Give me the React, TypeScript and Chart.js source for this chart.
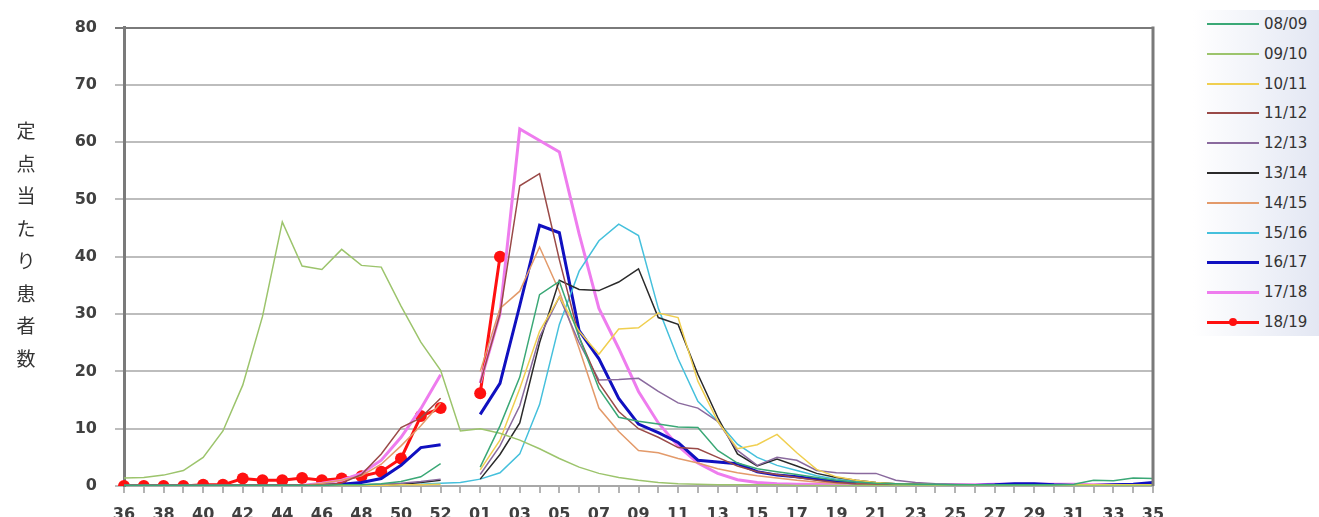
import React, { useEffect, useRef } from 'react';
import { Chart, registerables } from 'chart.js';

Chart.register(...registerables);

const weeks = [
  '36', '37', '38', '39', '40', '41', '42', '43', '44', '45', '46', '47', '48', '49', '50', '51', '52', '53',
  '01', '02', '03', '04', '05', '06', '07', '08', '09', '10', '11', '12', '13', '14', '15', '16', '17', '18',
  '19', '20', '21', '22', '23', '24', '25', '26', '27', '28', '29', '30', '31', '32', '33', '34', '35',
];

const yTicks = [0, 10, 20, 30, 40, 50, 60, 70, 80];

const seasons = ['08/09', '09/10', '10/11', '11/12', '12/13', '13/14', '14/15', '15/16', '16/17', '17/18', '18/19'];

const s0809 = [
  0.1, 0.1, 0.1, 0.1, 0.1, 0.1, 0.1, 0.1, 0.1, 0.1, 0.1, 0.2, 0.2, 0.4, 0.8, 1.6, 3.9, null,
  3.3, 10.5, 19, 33.4, 35.7, 26, 17, 12, 11.3, 10.8, 10.3, 10.2, 6.2, 4.0, 3.0, 2.5, 2.0, 1.5,
  1.0, 0.7, 0.5, 0.4, 0.3, 0.3, 0.2, 0.2, 0.2, 0.2, 0.2, 0.2, 0.3, 1.0, 0.9, 1.4, 1.3,
];
const s0910 = [
  1.4, 1.5, 1.9, 2.7, 5.0, 9.6, 17.6, 29.6, 46.1, 38.4, 37.8, 41.3, 38.5, 38.2, 31.4, 25.1, 20.2, 9.6,
  10.0, 9.2, 8.0, 6.5, 4.8, 3.3, 2.2, 1.5, 1.0, 0.6, 0.4, 0.3, 0.2, 0.2, 0.2, 0.2, 0.1, 0.1,
  0.1, 0.1, 0.1, 0.1, 0.1, 0.1, 0.1, 0.1, 0.1, 0.1, 0.1, 0.1, 0.1, 0.1, 0.1, 0.1, 0.1,
];
const s1011 = [
  0.1, 0.1, 0.1, 0.1, 0.1, 0.1, 0.1, 0.1, 0.1, 0.1, 0.1, 0.1, 0.1, 0.1, 0.2, 0.2, 0.3, null,
  2.8, 8, 17, 27, 33, 27, 23, 27.4, 27.6, 30.2, 29.4, 18.3, 11.3, 6.5, 7.2, 9.0, 5.8, 2.9,
  1.6, 1.0, 0.6, 0.4, 0.3, 0.2, 0.2, 0.2, 0.2, 0.2, 0.2, 0.2, 0.2, 0.2, 0.2, 0.2, 0.2,
];
const s1112 = [
  0.1, 0.1, 0.1, 0.1, 0.1, 0.1, 0.1, 0.1, 0.1, 0.1, 0.2, 0.5, 2.0, 5.6, 10.2, 11.9, 15.3, null,
  18, 30, 52.4, 54.5, 39.5, 26, 18, 13, 10, 8.5, 6.7, 6.5, 5.0, 3.5, 2.5, 2.0, 1.5, 1.0,
  0.6, 0.4, 0.3, 0.2, 0.2, 0.2, 0.2, 0.2, 0.2, 0.2, 0.2, 0.2, 0.2, 0.2, 0.2, 0.2, 0.2,
];
const s1213 = [
  0.1, 0.1, 0.1, 0.1, 0.1, 0.1, 0.1, 0.1, 0.1, 0.1, 0.1, 0.1, 0.2, 0.3, 0.5, 0.8, 1.2, null,
  2.0, 7, 14, 26, 33, 25, 18.5, 18.6, 18.8, 16.5, 14.5, 13.6, 11.3, 6.2, 3.6, 5.0, 4.5, 2.7,
  2.3, 2.2, 2.2, 1.0, 0.6, 0.4, 0.3, 0.2, 0.2, 0.2, 0.2, 0.2, 0.2, 0.2, 0.2, 0.2, 0.2,
];
const s1314 = [
  0.1, 0.1, 0.1, 0.1, 0.1, 0.1, 0.1, 0.1, 0.1, 0.1, 0.1, 0.1, 0.1, 0.1, 0.3, 0.6, 1.0, null,
  1.2, 5.5, 11, 25, 35.9, 34.3, 34.1, 35.6, 37.9, 29.4, 28.2, 19.5, 12.0, 5.6, 3.5, 4.7, 3.5, 2.2,
  1.5, 1.0, 0.6, 0.4, 0.3, 0.2, 0.2, 0.2, 0.2, 0.2, 0.2, 0.2, 0.2, 0.2, 0.2, 0.2, 0.2,
];
const s1415 = [
  0.1, 0.1, 0.1, 0.1, 0.1, 0.1, 0.1, 0.1, 0.1, 0.1, 0.5, 1.0, 1.8, 3.8, 7.0, 10.5, 14.5, null,
  20, 31, 34, 41.7, 34, 24, 13.6, 9.5, 6.2, 5.8, 4.8, 4.0, 3.0, 2.3, 1.8, 1.4, 1.0, 0.7,
  0.5, 0.4, 0.2, 0.2, 0.2, 0.2, 0.2, 0.2, 0.2, 0.2, 0.2, 0.2, 0.2, 0.2, 0.2, 0.2, 0.2,
];
const s1516 = [
  0.1, 0.1, 0.1, 0.1, 0.1, 0.1, 0.1, 0.1, 0.1, 0.1, 0.1, 0.1, 0.1, 0.1, 0.2, 0.3, 0.5, 0.6,
  1.2, 2.3, 5.6, 14.2, 28.2, 37.5, 42.8, 45.7, 43.7, 31, 22.2, 14.8, 11.3, 7.3, 5.0, 3.6, 2.7, 1.8,
  1.2, 0.8, 0.5, 0.4, 0.2, 0.2, 0.2, 0.2, 0.2, 0.2, 0.2, 0.2, 0.2, 0.2, 0.2, 0.2, 0.2,
];
const s1617 = [
  0.1, 0.1, 0.1, 0.1, 0.1, 0.1, 0.1, 0.1, 0.1, 0.1, 0.1, 0.3, 0.6, 1.3, 3.6, 6.7, 7.2, null,
  12.5, 17.9, 31.5, 45.5, 44.2, 27.1, 22.2, 15.3, 10.8, 9.3, 7.6, 4.5, 4.2, 3.9, 2.5, 1.9, 1.6, 1.2,
  0.8, 0.5, 0.3, 0.2, 0.2, 0.1, 0.1, 0.1, 0.2, 0.4, 0.4, 0.2, 0.1, 0.1, 0.2, 0.3, 0.6,
];
const s1718 = [
  0.1, 0.1, 0.1, 0.1, 0.1, 0.1, 0.1, 0.1, 0.1, 0.1, 0.5, 1.0, 2.2, 4.5, 8.5, 13.5, 19.4, null,
  18, 30, 62.3, 60.3, 58.3, 44, 31, 24, 16.5, 11, 7, 4, 2.2, 1.1, 0.6, 0.4, 0.3, 0.3,
  0.2, 0.2, 0.2, 0.2, 0.2, 0.2, 0.2, 0.2, 0.3, 0.3, 0.3, 0.3, 0.3, 0.2, 0.2, 0.2, 0.2,
];
const s1819 = [
  0, 0, 0, 0, 0.2, 0.2, 1.3, 1.0, 1.0, 1.4, 1.0, 1.3, 1.7, 2.5, 4.8, 12.2, 13.6, null,
  16.2, 40, null, null, null, null, null, null, null, null, null, null, null, null, null, null, null, null,
  null, null, null, null, null, null, null, null, null, null, null, null, null, null, null, null, null,
];

const seriesValues = [s0809, s0910, s1011, s1112, s1213, s1314, s1415, s1516, s1617, s1718, s1819];
const seriesColors = [
  '#3aa876', '#9cc46c', '#f0cf50', '#9a4a48', '#8a6a9e', '#2a2a2a',
  '#e39a6a', '#45c0dc', '#1010c0', '#ee7cee', '#ff1010',
];
const seriesWidths = [1.5, 1.5, 1.5, 1.5, 1.5, 1.5, 1.5, 1.5, 3, 3, 3];

const yTitle = '定点当たり患者数';

const rightBorder = {
  id: 'rightBorder',
  afterDraw(chart: any) {
    const { ctx, chartArea } = chart;
    ctx.save();
    ctx.strokeStyle = '#7a7a7a';
    ctx.lineWidth = 3;
    ctx.beginPath();
    ctx.moveTo(chartArea.right, chartArea.top - 1);
    ctx.lineTo(chartArea.right, chartArea.bottom);
    ctx.stroke();
    ctx.restore();
  },
};

export default function App() {
  const ref = useRef<HTMLCanvasElement | null>(null);

  useEffect(() => {
    if (!ref.current) return;
    const chart = new Chart(ref.current, {
      type: 'line',
      data: {
        labels: weeks,
        datasets: seasons.map((name, i) => ({
          label: name,
          data: seriesValues[i],
          borderColor: seriesColors[i],
          backgroundColor: seriesColors[i],
          borderWidth: seriesWidths[i],
          pointRadius: name === '18/19' ? 6 : 0,
          pointHoverRadius: name === '18/19' ? 6 : 0,
          pointBorderWidth: 0,
          tension: 0,
          spanGaps: false,
          fill: false,
        })),
      },
      options: {
        animation: false,
        responsive: true,
        maintainAspectRatio: false,
        layout: { padding: { left: 0, right: 166, top: 20, bottom: 0 } },
        plugins: { legend: { display: false }, tooltip: { enabled: false } },
        scales: {
          x: {
            offset: false,
            afterFit: (scale: any) => { scale.height = 31; },
            grid: {
              drawOnChartArea: false,
              drawTicks: true,
              tickLength: 7,
              tickColor: '#b4b4b4',
              lineWidth: 2,
            },
            border: { display: true, color: '#a8a8a8', width: 2 },
            ticks: {
              autoSkip: false,
              maxRotation: 0,
              minRotation: 0,
              padding: 12,
              color: '#404040',
              font: { family: 'DejaVu Sans', size: 16, weight: 'bold' },
              callback: (_v: any, idx: number) => (idx % 2 === 0 ? weeks[idx] : ''),
            },
          },
          y: {
            min: 0,
            max: 80,
            afterFit: (scale: any) => { scale.width = 124; },
            afterBuildTicks: (scale: any) => { scale.ticks = yTicks.map((v) => ({ value: v })); },
            grid: {
              color: (c: any) => (c.tick && c.tick.value === 80 ? '#7a7a7a' : '#bdbdbd'),
              lineWidth: 2,
              tickLength: 9,
            },
            border: { display: true, color: '#7a7a7a', width: 3 },
            ticks: {
              padding: 18,
              color: '#404040',
              font: { family: 'DejaVu Sans', size: 16, weight: 'bold' },
            },
          },
        },
      },
      plugins: [rightBorder],
    });
    return () => chart.destroy();
  }, []);

  return (
    <div style={{ position: 'absolute', left: 0, top: 0, width: 1319, height: 517, background: '#fff', overflow: 'hidden' }}>
      <canvas ref={ref} style={{ position: 'absolute', left: 0, top: 0, width: 1319, height: 517 }} />
      <div
        style={{
          position: 'absolute', left: 11, top: 114, width: 30,
          fontFamily: '"Noto Sans CJK JP", sans-serif', fontSize: 19, color: '#333',
          textAlign: 'center', lineHeight: '32.5px',
        }}
      >
        {Array.from(yTitle).map((ch, i) => (<div key={i}>{ch}</div>))}
      </div>
      <div
        style={{
          position: 'absolute', left: 1193, top: 10, width: 126, height: 326,
          background: 'linear-gradient(to right, rgba(255,255,255,1), #e3e7f3)',
        }}
      >
        {seasons.map((name, i) => (
          <div key={name} style={{ position: 'absolute', left: 0, top: 14 + i * 29.8 - 10, height: 20, width: 126 }}>
            <div style={{ position: 'absolute', left: 14, top: 9, width: 52, height: seriesWidths[i] >= 3 ? 3 : 2, background: seriesColors[i] }} />
            {name === '18/19' && (
              <div style={{ position: 'absolute', left: 36, top: 6, width: 8, height: 8, borderRadius: 4, background: seriesColors[i] }} />
            )}
            <div style={{ position: 'absolute', left: 71, top: 0, lineHeight: '20px', fontFamily: '"DejaVu Sans", sans-serif', fontSize: 15, color: '#333' }}>
              {name}
            </div>
          </div>
        ))}
      </div>
    </div>
  );
}
